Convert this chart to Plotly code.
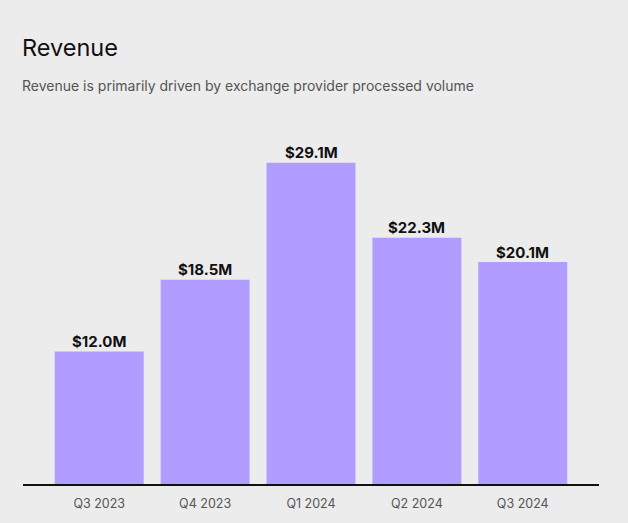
import plotly.graph_objects as go

# quarterly revenue, $M
quarters = ["Q3 2023", "Q4 2023", "Q1 2024", "Q2 2024", "Q3 2024"]
revenue = [12.0, 18.5, 29.1, 22.3, 20.1]
labels = ["$12.0M", "$18.5M", "$29.1M", "$22.3M", "$20.1M"]

bg = "#ececec"

fig = go.Figure(go.Bar(
    x=quarters,
    y=revenue,
    marker=dict(color="#b19dff", line=dict(width=0)),
    hoverinfo="skip",
))

# value labels sitting just above each bar
for q, v, lab in zip(quarters, revenue, labels):
    fig.add_annotation(
        x=q, y=v, text=lab, showarrow=False,
        yanchor="middle", yshift=10,
        font=dict(family="Inter", size=15, color="#111111", weight="bold"),
    )

fig.update_layout(
    width=628, height=523,
    paper_bgcolor=bg, plot_bgcolor=bg,
    margin=dict(l=23, r=29, t=130, b=32),
    bargap=0.16,
    showlegend=False,
    font=dict(family="Inter"),
    xaxis=dict(
        range=[-0.72, 4.72],
        showline=True, linecolor="#111111", linewidth=1.5,
        showgrid=False, zeroline=False, ticks="",
        ticklabelstandoff=7,
        tickfont=dict(size=12.5, color="#555555"),
    ),
    yaxis=dict(
        range=[0, 32.06],
        visible=False, showgrid=False, zeroline=False,
    ),
)

fig.add_annotation(
    text="Revenue", xref="paper", yref="paper",
    x=0, y=1, xanchor="left", yanchor="middle",
    xshift=-3, yshift=130 - 47,
    showarrow=False, font=dict(size=23.5, color="#111111", family="Inter"),
)
fig.add_annotation(
    text="Revenue is primarily driven by exchange provider processed volume",
    xref="paper", yref="paper",
    x=0, y=1, xanchor="left", yanchor="middle",
    xshift=-3, yshift=130 - 85,
    showarrow=False, font=dict(size=14, color="#555555", family="Inter"),
)

fig.write_html("out.html", config={"displayModeBar": False},
               post_script="document.body.style.margin='0';")
